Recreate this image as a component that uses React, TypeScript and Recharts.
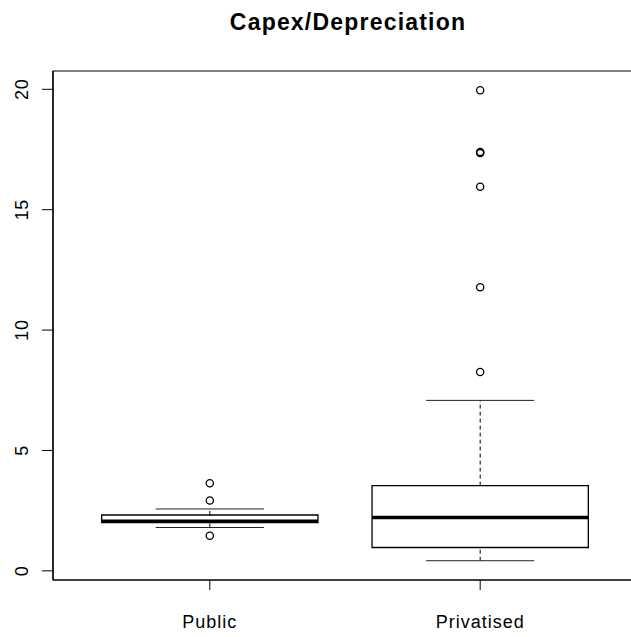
import React from 'react'
import {
  ComposedChart,
  XAxis,
  YAxis,
  Scatter,
  ReferenceArea,
  ReferenceLine,
} from 'recharts'

// box statistics
const groups = ['Public', 'Privatised']
const positions = [1, 2]
const lowerWhisker = [1.8, 0.42]
const q1 = [2.0, 0.97]
const median = [2.06, 2.22]
const q3 = [2.32, 3.54]
const upperWhisker = [2.57, 7.08]
const outliersPublic = [3.64, 2.92, 1.46]
const outliersPrivatised = [19.96, 17.4, 17.35, 15.95, 11.78, 8.26]
const yTicks = [0, 5, 10, 15, 20]

const outlierRows = [
  ...outliersPublic.map((v) => ({ x: positions[0], y: v })),
  ...outliersPrivatised.map((v) => ({ x: positions[1], y: v })),
]

const FONT = '"Liberation Sans", Arial, Helvetica, sans-serif'
const X_DOMAIN: [number, number] = [0.42, 2.58]
const Y_DOMAIN: [number, number] = [-0.38, 20.76]

const YTick = (props: any) => {
  const { x, y, payload } = props
  const tx = x - 12
  return (
    <text
      x={tx}
      y={y}
      transform={`rotate(-90, ${tx}, ${y})`}
      textAnchor="middle"
      fontSize={18}
      letterSpacing={0.6}
      fontFamily={FONT}
      fill="#000"
    >
      {payload.value}
    </text>
  )
}

const XTick = (props: any) => {
  const { x, y, payload } = props
  const idx = positions.indexOf(payload.value)
  return (
    <text
      x={x}
      y={y + 36}
      textAnchor="middle"
      fontSize={18}
      letterSpacing={1}
      fontFamily={FONT}
      fill="#000"
    >
      {groups[idx]}
    </text>
  )
}

const Circle = (p: any) => (
  <circle cx={p.cx} cy={p.cy} r={3.6} fill="none" stroke="#000" strokeWidth={1.3} />
)

export default function App() {
  return (
    <div
      style={{
        position: 'absolute',
        left: 0,
        top: 0,
        width: 631,
        height: 637,
        overflow: 'hidden',
        background: '#fff',
      }}
    >
      <div
        style={{
          position: 'absolute',
          left: 0,
          top: 9,
          width: 696,
          textAlign: 'center',
          fontFamily: FONT,
          fontWeight: 'bold',
          fontSize: 23,
          letterSpacing: 1.2,
          lineHeight: '27px',
          color: '#000',
        }}
      >
        Capex/Depreciation
      </div>
      <ComposedChart
        width={660}
        height={637}
        data={outlierRows}
        margin={{ top: 71, right: 23, bottom: 0, left: 3 }}
        style={{ position: 'absolute', left: 0, top: 0 }}
      >
        <XAxis
          type="number"
          dataKey="x"
          domain={X_DOMAIN}
          ticks={positions}
          allowDataOverflow
          height={57}
          tickSize={10}
          tick={<XTick />}
          axisLine={{ stroke: '#000', strokeWidth: 1.2 }}
          tickLine={{ stroke: '#000', strokeWidth: 1 }}
        />
        <YAxis
          type="number"
          domain={Y_DOMAIN}
          ticks={yTicks}
          allowDataOverflow
          width={50}
          tickSize={11}
          tick={<YTick />}
          axisLine={{ stroke: '#000', strokeWidth: 1.2 }}
          tickLine={{ stroke: '#000', strokeWidth: 1 }}
        />
        {/* plot frame */}
        <ReferenceArea
          x1={X_DOMAIN[0]}
          x2={X_DOMAIN[1]}
          y1={Y_DOMAIN[0]}
          y2={Y_DOMAIN[1]}
          fill="none"
          stroke="#000"
          strokeWidth={1.2}
          ifOverflow="visible"
        />
        {positions.map((c, i) => (
          <React.Fragment key={groups[i]}>
            <ReferenceLine
              segment={[
                { x: c, y: q3[i] },
                { x: c, y: upperWhisker[i] },
              ]}
              stroke="#000"
              strokeDasharray="4 3"
              strokeWidth={1}
            />
            <ReferenceLine
              segment={[
                { x: c, y: lowerWhisker[i] },
                { x: c, y: q1[i] },
              ]}
              stroke="#000"
              strokeDasharray="4 3"
              strokeWidth={1}
            />
            <ReferenceLine
              segment={[
                { x: c - 0.2, y: upperWhisker[i] },
                { x: c + 0.2, y: upperWhisker[i] },
              ]}
              stroke="#222"
              strokeWidth={1}
            />
            <ReferenceLine
              segment={[
                { x: c - 0.2, y: lowerWhisker[i] },
                { x: c + 0.2, y: lowerWhisker[i] },
              ]}
              stroke="#222"
              strokeWidth={1}
            />
            <ReferenceArea
              x1={c - 0.4}
              x2={c + 0.4}
              y1={q1[i]}
              y2={q3[i]}
              fill="#fff"
              fillOpacity={1}
              stroke="#000"
              strokeWidth={1.3}
            />
            <ReferenceLine
              segment={[
                { x: c - 0.4, y: median[i] },
                { x: c + 0.4, y: median[i] },
              ]}
              stroke="#000"
              strokeWidth={3.5}
            />
          </React.Fragment>
        ))}
        <Scatter
          data={outlierRows}
          dataKey="y"
          shape={<Circle />}
          isAnimationActive={false}
        />
      </ComposedChart>
    </div>
  )
}
